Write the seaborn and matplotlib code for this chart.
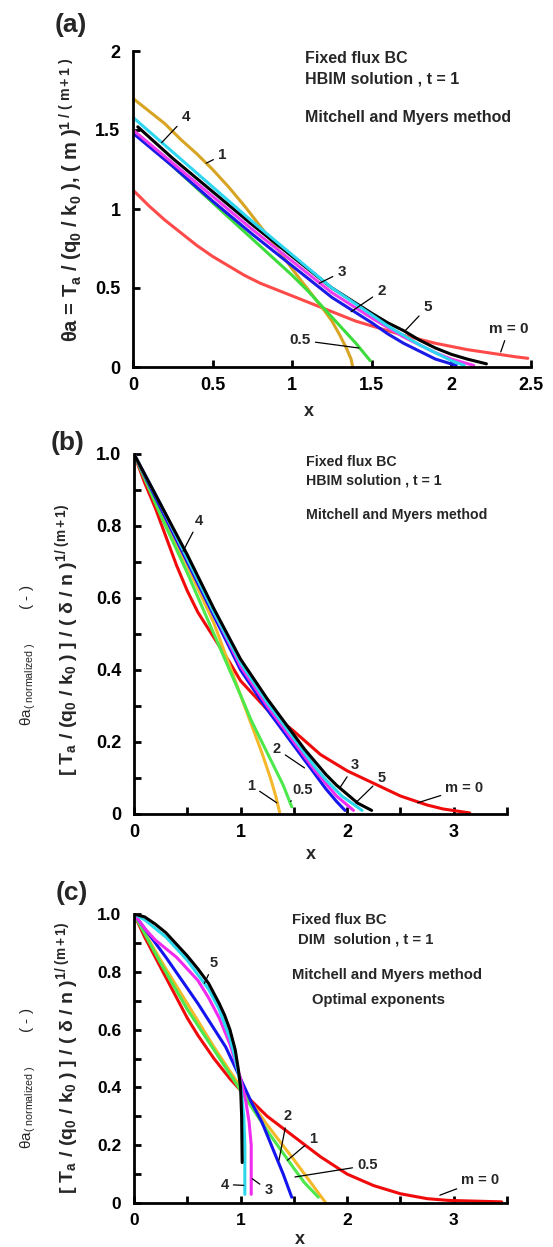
import numpy as np
import pandas as pd
import matplotlib
matplotlib.use("Agg")
import matplotlib.pyplot as plt
import seaborn as sns

# ---------------- data ----------------
labels_m = ["m = 0", "0.5", "1", "2", "3", "4", "5"]

# panel (a) : HBIM, theta_a
a_x_m0 = [0, 0.1, 0.2, 0.3, 0.4, 0.5, 0.6, 0.7, 0.8, 0.9, 1.0, 1.1, 1.2, 1.3,
          1.4, 1.5, 1.6, 1.7, 1.8, 1.9, 2.0, 2.1, 2.2, 2.3, 2.4, 2.48]
a_y_m0 = [1.12, 1.02, 0.93, 0.85, 0.77, 0.70, 0.64, 0.58, 0.53, 0.49, 0.45, 0.41,
          0.37, 0.33, 0.29, 0.26, 0.23, 0.20, 0.175, 0.15, 0.13, 0.11, 0.095,
          0.08, 0.065, 0.055]
a_x_m05 = [0, 0.25, 0.5, 0.75, 1.0, 1.1, 1.2, 1.3, 1.4, 1.49]
a_y_m05 = [1.50, 1.27, 1.04, 0.81, 0.58, 0.48, 0.37, 0.26, 0.15, 0.04]
a_x_m1 = [0, 0.1, 0.2, 0.3, 0.4, 0.5, 0.6, 0.7, 0.8, 0.9, 1.0, 1.1, 1.2, 1.25,
          1.3, 1.34, 1.37, 1.38]
a_y_m1 = [1.70, 1.62, 1.54, 1.44, 1.35, 1.25, 1.14, 1.02, 0.89, 0.76, 0.62, 0.49,
          0.36, 0.29, 0.20, 0.12, 0.05, 0.0]
a_x_m2 = [0, 0.25, 0.5, 0.75, 1.0, 1.25, 1.5, 1.6, 1.7, 1.8, 1.9, 2.03]
a_y_m2 = [1.48, 1.27, 1.05, 0.84, 0.64, 0.44, 0.28, 0.21, 0.15, 0.10, 0.05, 0.01]
a_x_m3 = [0, 0.25, 0.5, 0.75, 1.0, 1.25, 1.5, 1.6, 1.7, 1.8, 1.9, 2.0, 2.08]
a_y_m3 = [1.58, 1.36, 1.14, 0.92, 0.71, 0.50, 0.33, 0.26, 0.20, 0.14, 0.09, 0.04, 0.01]
a_x_m4 = [0, 0.25, 0.5, 0.75, 1.0, 1.25, 1.5, 1.6, 1.7, 1.8, 1.9, 2.0, 2.14]
a_y_m4 = [1.50, 1.29, 1.08, 0.87, 0.67, 0.47, 0.31, 0.25, 0.19, 0.14, 0.09, 0.05, 0.01]
a_x_m5 = [0.03, 0.25, 0.5, 0.75, 1.0, 1.25, 1.5, 1.6, 1.7, 1.8, 1.9, 2.0, 2.1, 2.22]
a_y_m5 = [1.52, 1.32, 1.11, 0.90, 0.70, 0.50, 0.34, 0.28, 0.23, 0.17, 0.12, 0.08, 0.05, 0.02]

# panel (b) : HBIM, normalized
b_x_m0 = [0, 0.05, 0.1, 0.2, 0.3, 0.4, 0.5, 0.6, 0.75, 0.9, 1.0, 1.25, 1.5,
          1.75, 2.0, 2.25, 2.5, 2.75, 2.9, 3.15]
b_y_m0 = [1.0, 0.96, 0.92, 0.85, 0.77, 0.69, 0.62, 0.56, 0.49, 0.42, 0.37, 0.29,
          0.23, 0.165, 0.12, 0.085, 0.05, 0.025, 0.014, 0.003]
b_x_m05 = [0, 0.25, 0.5, 0.75, 1.0, 1.1, 1.2, 1.3, 1.4, 1.48]
b_y_m05 = [1.0, 0.83, 0.67, 0.50, 0.33, 0.26, 0.20, 0.14, 0.08, 0.02]
b_x_m1 = [0, 0.25, 0.5, 0.75, 0.9, 1.0, 1.1, 1.2, 1.28, 1.33, 1.37]
b_y_m1 = [1.0, 0.84, 0.69, 0.53, 0.41, 0.33, 0.25, 0.17, 0.10, 0.05, 0.0]
b_x_m2 = [0, 0.25, 0.5, 0.75, 1.0, 1.25, 1.5, 1.6, 1.7, 1.8, 1.9, 1.98]
b_y_m2 = [1.0, 0.85, 0.70, 0.55, 0.40, 0.29, 0.19, 0.15, 0.11, 0.07, 0.035, 0.01]
b_x_m3 = [0, 0.25, 0.5, 0.75, 1.0, 1.25, 1.5, 1.6, 1.7, 1.8, 1.9, 2.06]
b_y_m3 = [1.0, 0.86, 0.71, 0.56, 0.41, 0.30, 0.20, 0.16, 0.12, 0.085, 0.05, 0.01]
b_x_m4 = [0, 0.25, 0.5, 0.75, 1.0, 1.25, 1.5, 1.6, 1.7, 1.8, 1.95, 2.14]
b_y_m4 = [1.0, 0.86, 0.71, 0.56, 0.42, 0.31, 0.21, 0.17, 0.13, 0.095, 0.05, 0.01]
b_x_m5 = [0, 0.25, 0.5, 0.75, 1.0, 1.25, 1.5, 1.6, 1.7, 1.8, 1.9, 2.0, 2.1, 2.23]
b_y_m5 = [1.0, 0.86, 0.72, 0.57, 0.43, 0.32, 0.22, 0.18, 0.145, 0.11, 0.08, 0.055, 0.03, 0.01]

# panel (c) : DIM, optimal exponents
c_x_m0 = [0, 0.05, 0.1, 0.2, 0.3, 0.4, 0.5, 0.6, 0.75, 0.9, 1.0, 1.25, 1.5,
          1.75, 2.0, 2.25, 2.5, 2.75, 2.95, 3.45]
c_y_m0 = [1.0, 0.96, 0.92, 0.85, 0.78, 0.71, 0.64, 0.58, 0.50, 0.43, 0.39, 0.30,
          0.23, 0.16, 0.10, 0.06, 0.032, 0.015, 0.009, 0.004]
c_x_m05 = [0, 0.25, 0.5, 0.75, 1.0, 1.25, 1.5, 1.6, 1.73]
c_y_m05 = [1.0, 0.83, 0.67, 0.53, 0.39, 0.25, 0.12, 0.07, 0.02]
c_x_m1 = [0, 0.25, 0.5, 0.75, 1.0, 1.25, 1.5, 1.6, 1.7, 1.80]
c_y_m1 = [1.0, 0.84, 0.69, 0.54, 0.40, 0.27, 0.15, 0.10, 0.05, 0.0]
c_x_m2 = [0, 0.3, 0.6, 0.86, 1.0, 1.1, 1.2, 1.3, 1.4, 1.48]
c_y_m2 = [1.0, 0.85, 0.69, 0.54, 0.43, 0.35, 0.28, 0.19, 0.10, 0.02]
c_x_m3 = [0, 0.1, 0.2, 0.3, 0.4, 0.5, 0.6, 0.7, 0.8, 0.9, 1.0, 1.05, 1.08,
          1.10, 1.10]
c_y_m3 = [1.0, 0.95, 0.91, 0.88, 0.85, 0.81, 0.77, 0.71, 0.64, 0.55, 0.43, 0.35,
          0.28, 0.20, 0.03]
c_x_m4 = [0, 0.1, 0.2, 0.3, 0.4, 0.5, 0.6, 0.7, 0.8, 0.9, 0.95, 1.0, 1.03, 1.04, 1.04]
c_y_m4 = [1.0, 0.98, 0.95, 0.92, 0.88, 0.84, 0.79, 0.74, 0.67, 0.57, 0.50, 0.41,
          0.30, 0.20, 0.03]
c_x_m5 = [0, 0.1, 0.2, 0.3, 0.4, 0.5, 0.6, 0.7, 0.8, 0.85, 0.9, 0.95, 0.98,
          1.0, 1.01, 1.015]
c_y_m5 = [1.0, 0.99, 0.965, 0.935, 0.895, 0.855, 0.81, 0.76, 0.69, 0.65, 0.60,
          0.53, 0.46, 0.40, 0.30, 0.14]

# ---------------- style ----------------
sns.set_theme(style="ticks")
plt.rcParams["font.family"] = ["Liberation Sans", "DejaVu Sans"]
plt.rcParams["mathtext.fontset"] = "custom"
plt.rcParams["mathtext.rm"] = "Liberation Sans"
plt.rcParams["mathtext.bf"] = "Liberation Sans:bold"
plt.rcParams["mathtext.it"] = "Liberation Sans:italic"
plt.rcParams["mathtext.default"] = "regular"

pal_a = {"m = 0": "#FF4A4A", "0.5": "#3CDC3C", "1": "#D8A423", "2": "#1A1AE6",
         "3": "#2ED6F0", "4": "#F03CF0", "5": "#000000"}
pal_bc = {"m = 0": "#F00A0A", "0.5": "#4CE84C", "1": "#F5B82A", "2": "#1414EE",
          "3": "#F02CF0", "4": "#2CD8EE", "5": "#000000"}
draw_order_a = ["m = 0", "1", "0.5", "2", "4", "5", "3"]
draw_order_bc = ["m = 0", "1", "0.5", "2", "3", "4", "5"]


def make_df(xs, ys):
    frames = []
    for lab, x, y in zip(labels_m, xs, ys):
        frames.append(pd.DataFrame({"x": x, "y": y, "m": lab}))
    return pd.concat(frames, ignore_index=True)


df_a = make_df([a_x_m0, a_x_m05, a_x_m1, a_x_m2, a_x_m3, a_x_m4, a_x_m5],
               [a_y_m0, a_y_m05, a_y_m1, a_y_m2, a_y_m3, a_y_m4, a_y_m5])
df_b = make_df([b_x_m0, b_x_m05, b_x_m1, b_x_m2, b_x_m3, b_x_m4, b_x_m5],
               [b_y_m0, b_y_m05, b_y_m1, b_y_m2, b_y_m3, b_y_m4, b_y_m5])
df_c = make_df([c_x_m0, c_x_m05, c_x_m1, c_x_m2, c_x_m3, c_x_m4, c_x_m5],
               [c_y_m0, c_y_m05, c_y_m1, c_y_m2, c_y_m3, c_y_m4, c_y_m5])

W, H = 553, 1247
fig = plt.figure(figsize=(W / 100, H / 100), dpi=100)


def axes_px(l, r, t, b):
    return fig.add_axes([l / W, 1 - b / H, (r - l) / W, (b - t) / H])


ax_a = axes_px(133, 531, 51, 367)
ax_b = axes_px(134, 507, 454, 814)
ax_c = axes_px(134, 507, 914, 1203)


def draw_curves(ax, df, pal, order):
    for lab in order:
        sub = df[df["m"] == lab]
        sns.lineplot(data=sub, x="x", y="y", color=pal[lab], lw=2.2,
                     sort=False, estimator=None, ax=ax, legend=False)


def style_axes(ax, xlim, ylim, xmaj, xlabels, ymaj, ylabels, size):
    ax.set_xlim(*xlim)
    ax.set_ylim(*ylim)
    for s in ["top", "right"]:
        ax.spines[s].set_visible(False)
    for s in ["left", "bottom"]:
        ax.spines[s].set_linewidth(2.0)
        ax.spines[s].set_color("black")
    ax.set_xticks(xmaj)
    ax.set_xticklabels(xlabels)
    ax.set_yticks(ymaj)
    ax.set_yticklabels(ylabels)
    ax.tick_params(direction="in", length=5, width=2.0, colors="black",
                   labelsize=size)
    ax.tick_params(axis="x", pad=7)
    ax.tick_params(axis="y", pad=9)
    for t in ax.get_xticklabels() + ax.get_yticklabels():
        t.set_fontweight("bold")
    ax.set_facecolor("white")
    ax.grid(False)
    ax.set_ylabel("")


def leader(ax, text, xy, xytext, size=11):
    ax.annotate(text, xy=xy, xytext=xytext, fontsize=size, fontweight="bold",
                ha="center", va="center",
                arrowprops=dict(arrowstyle="-", lw=0.9, color="black",
                                shrinkA=1, shrinkB=0))


# ---------- panel (a) ----------
draw_curves(ax_a, df_a, pal_a, draw_order_a)
style_axes(ax_a, (0, 2.5), (0, 2), [0, 0.5, 1, 1.5, 2, 2.5],
           ["0", "0.5", "1", "1.5", "2", "2.5"],
           [0, 0.5, 1, 1.5, 2], ["0", "0.5", "1", "1.5", "2"], 13)
ax_a.set_xlabel("x", fontsize=13, fontweight="bold")
ax_a.xaxis.set_label_coords(0.442, -0.115)
ax_a.text(1.08, 1.95, "Fixed flux BC", fontsize=11.5, fontweight="bold", va="center")
ax_a.text(1.08, 1.82, "HBIM solution , t = 1", fontsize=11.5, fontweight="bold", va="center")
ax_a.text(1.08, 1.58, "Mitchell and Myers method", fontsize=11.5, fontweight="bold", va="center")
leader(ax_a, "4", (0.18, 1.42), (0.33, 1.58))
leader(ax_a, "1", (0.46, 1.29), (0.56, 1.34))
leader(ax_a, "3", (1.17, 0.53), (1.31, 0.60))
leader(ax_a, "2", (1.37, 0.35), (1.56, 0.48))
leader(ax_a, "5", (1.71, 0.23), (1.85, 0.38))
leader(ax_a, "m = 0", (2.31, 0.095), (2.36, 0.24))
leader(ax_a, "0.5", (1.42, 0.12), (1.05, 0.17))
fig.text(71 / W, 1 - 25 / H, "(a)", fontsize=19, fontweight="bold", ha="center", va="center")
fig.text(71 / W, 1 - 200 / H,
         r"θa = T$_a$ / (q$_0$ / k$_0$ ), ( m )$^{1\ /\ (\ m+1\ )}$",
         rotation=90, fontsize=14.5, fontweight="bold", ha="center", va="center")

# ---------- panel (b) ----------
draw_curves(ax_b, df_b, pal_bc, draw_order_bc)
style_axes(ax_b, (0, 3.5), (0, 1.0), np.arange(0, 3.51, 0.5),
           ["0", "", "1", "", "2", "", "3", ""],
           np.arange(0, 1.001, 0.1),
           ["0", "", "0.2", "", "0.4", "", "0.6", "", "0.8", "", "1.0"], 13)
ax_b.set_xlabel("x", fontsize=13, fontweight="bold")
ax_b.xaxis.set_label_coords(0.4745, -0.09)
ax_b.text(1.61, 0.977, "Fixed flux BC", fontsize=10.2, fontweight="bold", va="center")
ax_b.text(1.61, 0.926, "HBIM solution , t = 1", fontsize=10.2, fontweight="bold", va="center")
ax_b.text(1.61, 0.83, "Mitchell and Myers method", fontsize=10.2, fontweight="bold", va="center")
leader(ax_b, "4", (0.46, 0.73), (0.61, 0.815), 10.5)
leader(ax_b, "2", (1.60, 0.128), (1.34, 0.18), 10.5)
leader(ax_b, "3", (1.93, 0.072), (2.07, 0.135), 10.5)
leader(ax_b, "5", (2.08, 0.031), (2.32, 0.10), 10.5)
leader(ax_b, "1", (1.34, 0.031), (1.10, 0.079), 10.5)
leader(ax_b, "0.5", (1.47, 0.035), (1.58, 0.068), 10.5)
leader(ax_b, "m = 0", (2.66, 0.031), (3.10, 0.072), 10.5)
fig.text(68 / W, 1 - 443 / H, "(b)", fontsize=19, fontweight="bold", ha="center", va="center")
fig.text(67 / W, 1 - 640 / H,
         r"[ T$_a$ / (q$_0$ / k$_0$ ) ] / ( δ / n )$^{1/\ (m+1)}$",
         rotation=90, fontsize=14, fontweight="bold", ha="center", va="center")
fig.text(28 / W, 1 - 655 / H,
         r"θa$_{(\ normalized\ )}$        ( - )",
         rotation=90, fontsize=11, ha="center", va="center")

# ---------- panel (c) ----------
draw_curves(ax_c, df_c, pal_bc, draw_order_bc)
style_axes(ax_c, (0, 3.5), (0, 1.0), np.arange(0, 3.51, 0.5),
           ["0", "", "1", "", "2", "", "3", ""],
           np.arange(0, 1.001, 0.1),
           ["0", "", "0.2", "", "0.4", "", "0.6", "", "0.8", "", "1.0"], 12.5)
ax_c.set_xlabel("x", fontsize=13, fontweight="bold")
ax_c.xaxis.set_label_coords(0.445, -0.097)
ax_c.text(1.48, 0.98, "Fixed flux BC", fontsize=10.7, fontweight="bold", va="center")
ax_c.text(1.54, 0.913, "DIM  solution , t = 1", fontsize=10.7, fontweight="bold", va="center")
ax_c.text(1.48, 0.79, "Mitchell and Myers method", fontsize=10.7, fontweight="bold", va="center")
ax_c.text(1.67, 0.703, "Optimal exponents", fontsize=10.7, fontweight="bold", va="center")
leader(ax_c, "5", (0.66, 0.76), (0.75, 0.83), 10.5)
leader(ax_c, "2", (1.36, 0.148), (1.44, 0.30), 10.5)
leader(ax_c, "1", (1.44, 0.148), (1.68, 0.223), 10.5)
leader(ax_c, "0.5", (1.51, 0.09), (2.19, 0.13), 10.5)
leader(ax_c, "4", (1.03, 0.061), (0.85, 0.064), 10.5)
leader(ax_c, "3", (1.11, 0.084), (1.26, 0.044), 10.5)
leader(ax_c, "m = 0", (2.87, 0.027), (3.25, 0.08), 10.5)
fig.text(72 / W, 1 - 893 / H, "(c)", fontsize=19, fontweight="bold", ha="center", va="center")
fig.text(67 / W, 1 - 1058 / H,
         r"[ T$_a$ / (q$_0$ / k$_0$ ) ] / ( δ / n )$^{1/\ (m+1)}$",
         rotation=90, fontsize=14, fontweight="bold", ha="center", va="center")
fig.text(28 / W, 1 - 1078 / H,
         r"θa$_{(\ normalized\ )}$        ( - )",
         rotation=90, fontsize=11, ha="center", va="center")

fig.savefig("out.png", dpi=100, facecolor="white")
